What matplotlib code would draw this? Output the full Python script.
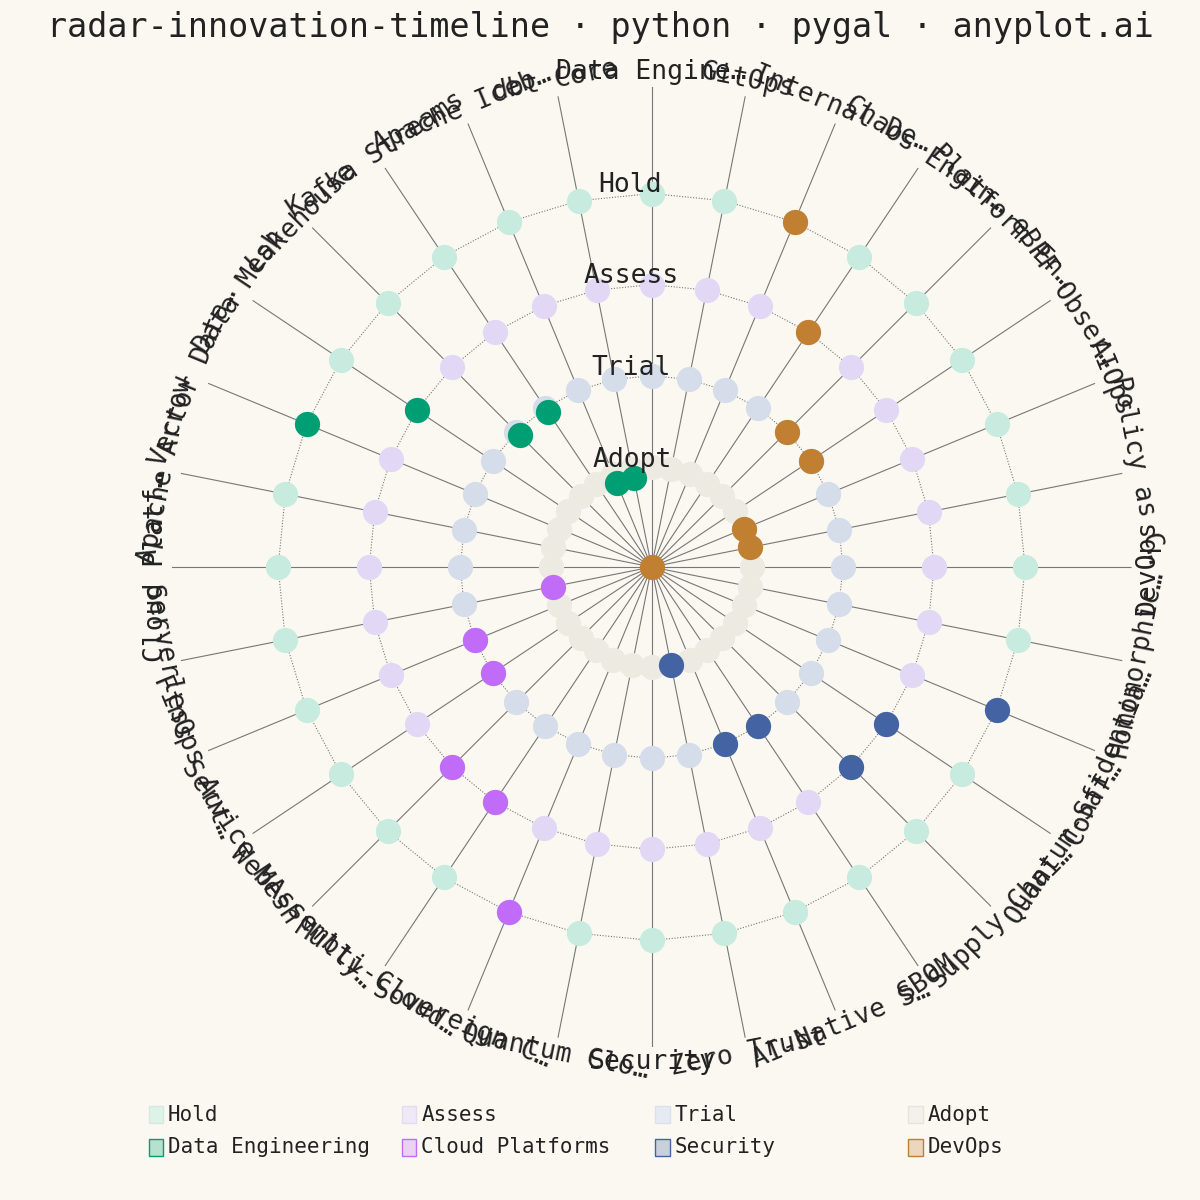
import numpy as np
import matplotlib.pyplot as plt

plt.rcParams["font.family"] = ["DejaVu Sans Mono", "DejaVu Sans"]

BG = "#FAF8F1"
N_SPOKES = 32

spoke_labels = [
    "Data Engine…", "GitOps", "Internal De…", "Chaos Engin…", "Platform En…",
    "eBPF Obser…", "AIOps", "Policy as C…", "DevOps",
    "Homomorphic…", "Confidentia…", "Quantum-Saf…", "Supply Chai…", "SBOM",
    "AI-Native S…", "Zero Trust", "Security",
    "Quantum Clo…", "Sovereign C…", "Multi-Cloud…", "WebAssembly…", "Service Mesh",
    "FinOps Aut…", "Serverless", "Cloud Platf…",
    "Apache Arrow", "Vector Data…", "Data Mesh", "Lakehouse", "Kafka Streams",
    "Apache Iceb…", "dbt Core",
]

rings = ["Adopt", "Trial", "Assess", "Hold"]
ring_values = [1, 2, 3, 4]
ring_colors = ["#EDEAE2", "#D5DCEA", "#E2D8F6", "#C7ECDF"]
ring_legend_colors = ["#F3F1EC", "#E6EAF2", "#EEE9F8", "#DDF3EA"]

categories = ["Data Engineering", "Cloud Platforms", "Security", "DevOps"]
cat_colors = ["#009E73", "#C06CF8", "#4363A2", "#C17F32"]
cat_spokes = [
    [26, 27, 28, 29, 30, 31],
    [18, 19, 20, 21, 22, 23],
    [10, 11, 12, 13, 14, 15],
    [2, 3, 4, 5, 6, 7],
]
cat_values = [
    [4, 3, 1.95, 1.95, 0.9, 0.9],
    [4, 3, 3, 2, 2, 1],
    [4, 3, 3, 2, 2, 1],
    [4, 3, 2, 2, 1, 1],
]

OFFSET = 0.1
RMAX = 5.27

fig = plt.figure(figsize=(12, 12), dpi=100, facecolor=BG)
ax = fig.add_axes([0.143, 0.1275, 0.8, 0.8], projection="polar")
ax.set_facecolor(BG)
ax.set_theta_zero_location("N")
ax.set_theta_direction(-1)
ax.set_ylim(0, RMAX)
ax.axis("off")

theta = np.arange(N_SPOKES) * 2 * np.pi / N_SPOKES

for t in theta:
    ax.plot([t, t], [0, RMAX], color="#777777", lw=0.8, zorder=1)

for v, c in zip(ring_values, ring_colors):
    r = np.full(N_SPOKES, v + OFFSET)
    ax.plot(np.append(theta, theta[0]), np.append(r, r[0]), color="#777777",
            lw=0.8, ls=(0, (1, 1.5)), zorder=2)
    ax.scatter(theta, r, s=330, color=c, zorder=3, linewidths=0)

for c, sp, vals in zip(cat_colors, cat_spokes, cat_values):
    ax.scatter(theta[sp], np.array(vals) + OFFSET, s=330, color=c, zorder=4,
               linewidths=0)
ax.scatter([0], [0], s=330, color=cat_colors[-1], zorder=5, linewidths=0)

# ring names near the top spoke
for name, v in zip(rings, ring_values):
    ax.text(-0.19 / (v + OFFSET) - 0.01, v + OFFSET + 0.1, name, fontsize=19,
            ha="center", va="center", color="#222222", zorder=6)

# spoke labels, tangential
for t, lab in zip(theta, spoke_labels):
    deg = np.degrees(t)
    if deg < 90:
        rot = -deg
    elif deg < 270:
        rot = 180 - deg
    else:
        rot = 360 - deg
    ax.text(t, RMAX + 0.17, lab, fontsize=19, ha="center", va="center",
            rotation=rot, rotation_mode="anchor", color="#222222")

fig.text(0.5, 0.977, "radar-innovation-timeline · python · pygal · anyplot.ai",
         fontsize=24, ha="center", va="center", color="#222222")

# legend
leg_names = rings[::-1] + categories
leg_fill = ring_legend_colors[::-1] + [c + "44" for c in cat_colors]
leg_edge = ["#D8E8E0", "#E2DCF0", "#DCE0EA", "#E6E4DE"] + cat_colors
xs = [0.124, 0.335, 0.546, 0.757]
for i, (n, f, e) in enumerate(zip(leg_names, leg_fill, leg_edge)):
    x = xs[i % 4]
    y = 0.071 if i < 4 else 0.044
    fig.patches.append(plt.Rectangle((x, y - 0.007), 0.012, 0.014,
                                     transform=fig.transFigure,
                                     facecolor=f, edgecolor=e, lw=1))
    fig.text(x + 0.016, y, n, fontsize=15, va="center", color="#222222")

fig.savefig("out.png", facecolor=BG)
